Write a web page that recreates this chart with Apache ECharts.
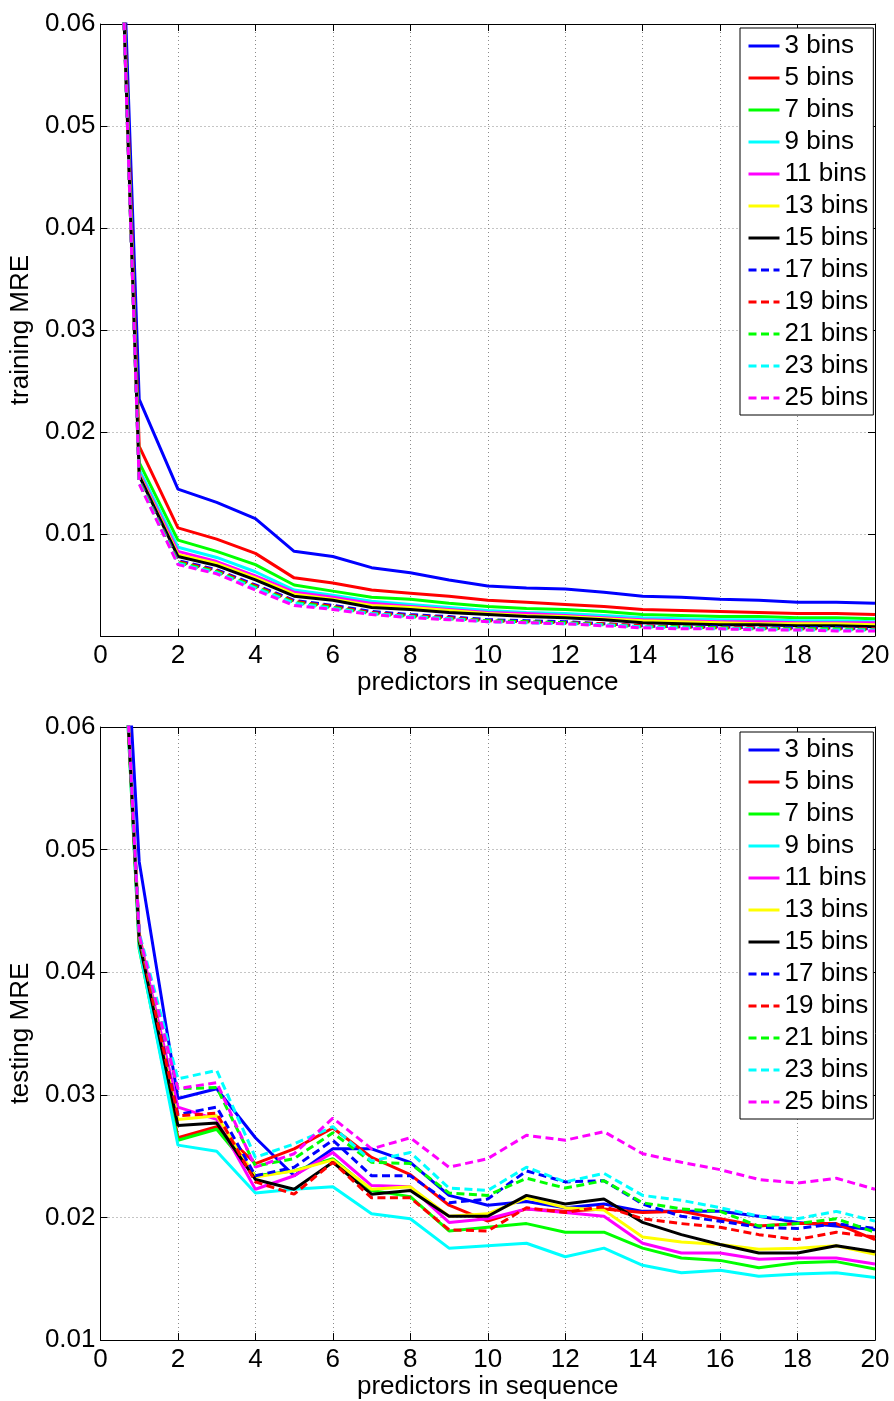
<!DOCTYPE html>
<html>
<head>
<meta charset="utf-8">
<script src="https://cdn.jsdelivr.net/npm/echarts@6/dist/echarts.min.js"></script>
<style>
  html, body { margin: 0; padding: 0; background: #ffffff; }
  #chart { width: 894px; height: 1401px; }
</style>
</head>
<body>
<div id="chart"></div>
<script>
// Number of predictors used in the sequence (x axis)
const predictors = [0, 1, 2, 3, 4, 5, 6, 7, 8, 9, 10, 11, 12, 13, 14, 15, 16, 17, 18, 19, 20];

const binLabels = ['3 bins', '5 bins', '7 bins', '9 bins', '11 bins', '13 bins',
                   '15 bins', '17 bins', '19 bins', '21 bins', '23 bins', '25 bins'];

const xTicks = [0, 2, 4, 6, 8, 10, 12, 14, 16, 18, 20];
const yTicksTrain = [0, 0.01, 0.02, 0.03, 0.04, 0.05, 0.06];
const yTicksTest = [0.01, 0.02, 0.03, 0.04, 0.05, 0.06];

// Training MRE per bin count
const train3  = [0.130, 0.0232, 0.0144, 0.0131, 0.0115, 0.0083, 0.0078, 0.0067, 0.0062, 0.0055, 0.0049, 0.0047, 0.0046, 0.0043, 0.0039, 0.0038, 0.0036, 0.0035, 0.0033, 0.0033, 0.0032];
const train5  = [0.130, 0.0186, 0.0106, 0.0095, 0.0081, 0.0057, 0.0052, 0.0045, 0.0042, 0.0039, 0.0035, 0.0033, 0.0031, 0.0029, 0.0026, 0.0025, 0.0024, 0.0023, 0.0022, 0.0022, 0.0021];
const train7  = [0.130, 0.0170, 0.0094, 0.0083, 0.0070, 0.0050, 0.0044, 0.0038, 0.0036, 0.0032, 0.0029, 0.0027, 0.0026, 0.0024, 0.0021, 0.0020, 0.0019, 0.0019, 0.0018, 0.0018, 0.0017];
const train9  = [0.130, 0.0163, 0.0087, 0.0077, 0.0063, 0.0045, 0.0040, 0.0034, 0.0031, 0.0028, 0.0025, 0.0023, 0.0022, 0.0020, 0.0018, 0.0017, 0.0016, 0.0016, 0.0015, 0.0015, 0.0014];
const train11 = [0.130, 0.0160, 0.0083, 0.0073, 0.0059, 0.0043, 0.0038, 0.0032, 0.0029, 0.0026, 0.0023, 0.0022, 0.0020, 0.0018, 0.0016, 0.0015, 0.0014, 0.0014, 0.0013, 0.0013, 0.0013];
const train13 = [0.130, 0.0158, 0.0080, 0.0071, 0.0057, 0.0041, 0.0036, 0.0030, 0.0028, 0.0025, 0.0022, 0.0020, 0.0019, 0.0017, 0.0015, 0.0014, 0.0013, 0.0012, 0.0012, 0.0012, 0.0011];
const train15 = [0.130, 0.0157, 0.0078, 0.0069, 0.0055, 0.0039, 0.0035, 0.0028, 0.0026, 0.0023, 0.0021, 0.0019, 0.0018, 0.0016, 0.0013, 0.0012, 0.0011, 0.0011, 0.0010, 0.0010, 0.0009];
const train17 = [0.130, 0.0153, 0.0074, 0.0065, 0.0050, 0.0035, 0.0030, 0.0024, 0.0021, 0.0019, 0.0016, 0.0015, 0.0014, 0.0012, 0.0010, 0.0009, 0.0009, 0.0008, 0.0008, 0.0008, 0.0007];
const train19 = [0.130, 0.0152, 0.0073, 0.0064, 0.0049, 0.0034, 0.0029, 0.0023, 0.0020, 0.0018, 0.0015, 0.0014, 0.0013, 0.0012, 0.0010, 0.0009, 0.0008, 0.0008, 0.0007, 0.0007, 0.0007];
const train21 = [0.130, 0.0151, 0.0072, 0.0063, 0.0048, 0.0033, 0.0028, 0.0022, 0.0019, 0.0017, 0.0015, 0.0014, 0.0013, 0.0011, 0.0009, 0.0009, 0.0008, 0.0007, 0.0007, 0.0007, 0.0006];
const train23 = [0.130, 0.0150, 0.0071, 0.0062, 0.0047, 0.0032, 0.0027, 0.0022, 0.0019, 0.0017, 0.0014, 0.0013, 0.0012, 0.0011, 0.0009, 0.0008, 0.0007, 0.0007, 0.0006, 0.0006, 0.0006];
const train25 = [0.130, 0.0149, 0.0070, 0.0061, 0.0045, 0.0030, 0.0026, 0.0021, 0.0018, 0.0016, 0.0014, 0.0013, 0.0012, 0.0010, 0.0008, 0.0007, 0.0007, 0.0006, 0.0006, 0.0005, 0.0005];

// Testing MRE per bin count
const test3  = [0.105, 0.0490, 0.0297, 0.0305, 0.0265, 0.0234, 0.0256, 0.0256, 0.0245, 0.0218, 0.0210, 0.0213, 0.0208, 0.0211, 0.0205, 0.0205, 0.0205, 0.0201, 0.0196, 0.0193, 0.0190];
const test5  = [0.105, 0.0432, 0.0265, 0.0274, 0.0244, 0.0256, 0.0273, 0.0249, 0.0235, 0.0210, 0.0197, 0.0207, 0.0205, 0.0207, 0.0204, 0.0205, 0.0199, 0.0193, 0.0195, 0.0195, 0.0182];
const test7  = [0.105, 0.0419, 0.0263, 0.0272, 0.0234, 0.0238, 0.0248, 0.0222, 0.0217, 0.0189, 0.0192, 0.0195, 0.0188, 0.0188, 0.0175, 0.0167, 0.0165, 0.0159, 0.0163, 0.0164, 0.0158];
const test9  = [0.105, 0.0420, 0.0259, 0.0254, 0.0220, 0.0223, 0.0225, 0.0203, 0.0199, 0.0175, 0.0177, 0.0179, 0.0168, 0.0175, 0.0161, 0.0155, 0.0157, 0.0152, 0.0154, 0.0155, 0.0151];
const test11 = [0.105, 0.0428, 0.0290, 0.0280, 0.0223, 0.0234, 0.0253, 0.0226, 0.0225, 0.0196, 0.0199, 0.0207, 0.0204, 0.0201, 0.0179, 0.0171, 0.0171, 0.0166, 0.0167, 0.0167, 0.0162];
const test13 = [0.105, 0.0425, 0.0280, 0.0283, 0.0233, 0.0238, 0.0247, 0.0223, 0.0225, 0.0201, 0.0203, 0.0216, 0.0208, 0.0206, 0.0184, 0.0180, 0.0178, 0.0174, 0.0175, 0.0177, 0.0170];
const test15 = [0.105, 0.0425, 0.0275, 0.0277, 0.0231, 0.0223, 0.0245, 0.0219, 0.0222, 0.0201, 0.0201, 0.0218, 0.0211, 0.0215, 0.0196, 0.0186, 0.0178, 0.0171, 0.0171, 0.0177, 0.0172];
const test17 = [0.105, 0.0430, 0.0284, 0.0290, 0.0234, 0.0241, 0.0263, 0.0234, 0.0234, 0.0212, 0.0215, 0.0238, 0.0229, 0.0230, 0.0211, 0.0201, 0.0197, 0.0192, 0.0191, 0.0195, 0.0191];
const test19 = [0.105, 0.0428, 0.0283, 0.0285, 0.0229, 0.0219, 0.0245, 0.0216, 0.0216, 0.0190, 0.0189, 0.0208, 0.0204, 0.0209, 0.0199, 0.0195, 0.0192, 0.0186, 0.0182, 0.0188, 0.0184];
const test21 = [0.105, 0.0428, 0.0305, 0.0306, 0.0242, 0.0248, 0.0269, 0.0245, 0.0244, 0.0220, 0.0218, 0.0232, 0.0224, 0.0230, 0.0212, 0.0207, 0.0205, 0.0193, 0.0195, 0.0199, 0.0188];
const test23 = [0.105, 0.0432, 0.0313, 0.0320, 0.0249, 0.0260, 0.0274, 0.0246, 0.0253, 0.0224, 0.0222, 0.0241, 0.0229, 0.0236, 0.0218, 0.0214, 0.0208, 0.0201, 0.0199, 0.0205, 0.0197];
const test25 = [0.105, 0.0430, 0.0305, 0.0310, 0.0241, 0.0252, 0.0281, 0.0256, 0.0265, 0.0241, 0.0248, 0.0267, 0.0263, 0.0270, 0.0252, 0.0245, 0.0239, 0.0231, 0.0228, 0.0232, 0.0223];

const trainSets = [train3, train5, train7, train9, train11, train13, train15, train17, train19, train21, train23, train25];
const testSets  = [test3, test5, test7, test9, test11, test13, test15, test17, test19, test21, test23, test25];

// MATLAB-style colour order: solid for the first seven, dashed afterwards
const lineColors = ['#0000ff', '#ff0000', '#00ff00', '#00ffff', '#ff00ff', '#ffff00', '#000000',
                    '#0000ff', '#ff0000', '#00ff00', '#00ffff', '#ff00ff'];
const lineTypes = ['solid', 'solid', 'solid', 'solid', 'solid', 'solid', 'solid',
                   [8, 4.5], [8, 4.5], [8, 4.5], [8, 4.5], [8, 4.5]];

const FONT = "'Liberation Sans', Arial, Helvetica, sans-serif";
const FS = 26;

const gridRects = [
  { left: 97, right: 19, top: 24, height: 612 },
  { left: 97, right: 19, top: 727, height: 614 }
];

function fmtY(v) {
  if (Math.abs(v) < 1e-9) return '';
  return v.toFixed(2);
}

function mainX(gridIndex) {
  return {
    type: 'value', gridIndex: gridIndex, position: 'bottom',
    min: xTicks[0], max: xTicks[xTicks.length - 1], interval: xTicks[1] - xTicks[0],
    name: 'predictors in sequence', nameLocation: 'middle', nameGap: 33,
    nameTextStyle: { color: '#000', fontFamily: FONT, fontSize: FS },
    axisLine: { show: true, onZero: false, lineStyle: { color: '#000', width: 1 } },
    axisTick: { show: true, inside: true, length: 7, lineStyle: { color: '#000' } },
    axisLabel: { color: '#000', fontFamily: FONT, fontSize: FS, margin: 7 },
    splitLine: { show: true, lineStyle: { color: '#8a8a8a', width: 1, type: [1, 3] } }
  };
}
function boxX(gridIndex) {
  return {
    type: 'value', gridIndex: gridIndex, position: 'top',
    min: xTicks[0], max: xTicks[xTicks.length - 1], interval: xTicks[1] - xTicks[0],
    axisLine: { show: true, onZero: false, lineStyle: { color: '#000', width: 1 } },
    axisTick: { show: true, inside: true, length: 7, lineStyle: { color: '#000' } },
    axisLabel: { show: false }, splitLine: { show: false }
  };
}
function mainY(gridIndex, ticks, name) {
  return {
    type: 'value', gridIndex: gridIndex, position: 'left',
    min: ticks[0], max: ticks[ticks.length - 1], interval: ticks[1] - ticks[0],
    name: name, nameLocation: 'middle', nameGap: 57,
    nameTextStyle: { color: '#000', fontFamily: FONT, fontSize: FS },
    axisLine: { show: true, onZero: false, lineStyle: { color: '#000', width: 1 } },
    axisTick: { show: true, inside: true, length: 7, lineStyle: { color: '#000' } },
    axisLabel: { color: '#000', fontFamily: FONT, fontSize: FS, margin: 5, formatter: fmtY },
    splitLine: { show: true, lineStyle: { color: '#8a8a8a', width: 1, type: [1, 3] } }
  };
}
function boxY(gridIndex, ticks) {
  return {
    type: 'value', gridIndex: gridIndex, position: 'right',
    min: ticks[0], max: ticks[ticks.length - 1], interval: ticks[1] - ticks[0],
    axisLine: { show: true, onZero: false, lineStyle: { color: '#000', width: 1 } },
    axisTick: { show: true, inside: true, length: 7, lineStyle: { color: '#000' } },
    axisLabel: { show: false }, splitLine: { show: false }
  };
}

function makeLegend(top) {
  return {
    orient: 'vertical', left: 740, top: top,
    data: binLabels,
    itemWidth: 31, itemHeight: 14, itemGap: 6,
    padding: [5, 5, 4, 7],
    backgroundColor: '#ffffff', borderColor: '#000', borderWidth: 1, borderRadius: 0,
    itemStyle: { opacity: 0, borderWidth: 0 },
    lineStyle: { width: 3 },
    textStyle: { color: '#000', fontFamily: FONT, fontSize: FS, lineHeight: 26 },
    selectedMode: false
  };
}

const series = [];
binLabels.forEach(function (label, i) {
  [trainSets, testSets].forEach(function (sets, g) {
    series.push({
      name: label, type: 'line',
      xAxisIndex: g * 2, yAxisIndex: g * 2,
      data: predictors.map(function (p, k) { return [p, sets[i][k]]; }),
      symbol: 'none', showSymbol: false, clip: true,
      lineStyle: { color: lineColors[i], width: 3, type: lineTypes[i] },
      itemStyle: { color: lineColors[i] },
      emphasis: { disabled: true }
    });
  });
});

const chart = echarts.init(document.getElementById('chart'), null, { renderer: 'canvas' });
chart.setOption({
  animation: false,
  backgroundColor: '#ffffff',
  grid: gridRects.map(function (r) { return Object.assign({ containLabel: false }, r); }),
  xAxis: [mainX(0), boxX(0), mainX(1), boxX(1)],
  yAxis: [mainY(0, yTicksTrain, 'training MRE'), boxY(0, yTicksTrain),
          mainY(1, yTicksTest, 'testing MRE'), boxY(1, yTicksTest)],
  legend: [makeLegend(28), makeLegend(732)],
  series: series
});
</script>
</body>
</html>
